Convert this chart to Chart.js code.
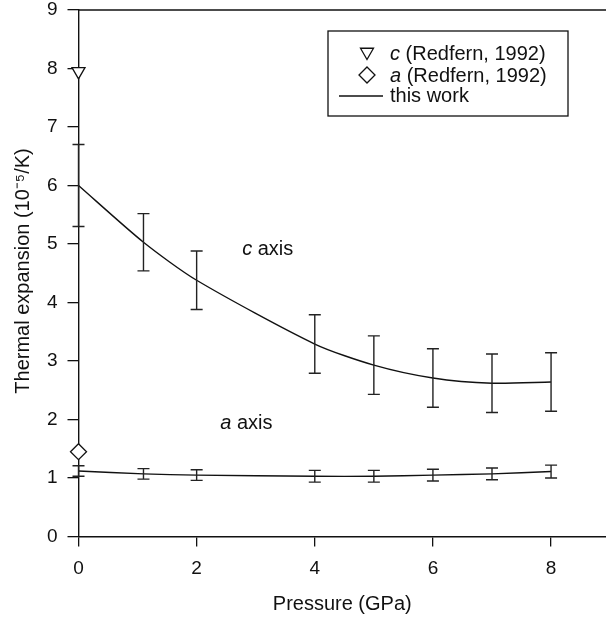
<!DOCTYPE html>
<html>
<head>
<meta charset="utf-8">
<script src="https://cdn.jsdelivr.net/npm/chart.js@4.4.1/dist/chart.umd.min.js"></script>
<style>
  html, body { margin: 0; padding: 0; background: #fff; }
  #wrap { width: 606px; height: 618px; position: relative; }
</style>
</head>
<body>
<div id="wrap"><canvas id="c" width="606" height="618"></canvas></div>
<script>
// ---- data ----
const pressure = [0, 1.1, 2, 4, 5, 6, 7, 8];
const cAxis = [6.0, 5.03, 4.38, 3.29, 2.93, 2.71, 2.62, 2.64];
const cErr = [0.70, 0.49, 0.50, 0.50, 0.50, 0.50, 0.50, 0.50];
const aAxis = [1.12, 1.07, 1.05, 1.03, 1.03, 1.05, 1.07, 1.11];
const aErr = [0.09, 0.09, 0.09, 0.10, 0.10, 0.10, 0.10, 0.11];
const redfernP = [0];
const redfernC = [7.95];
const redfernA = [1.45];
const xTicks = [0, 2, 4, 6, 8];
const yTicks = [0, 1, 2, 3, 4, 5, 6, 7, 8, 9];
const legendLabels = ['c', ' (Redfern, 1992)', 'a', ' (Redfern, 1992)', 'this work'];
const xTitle = 'Pressure (GPa)';
const yTitle = 'Thermal expansion (10\u207B\u2075/K)';

const FONT = '"Liberation Sans", Arial, Helvetica, sans-serif';
const toXY = (xs, ys) => xs.map((x, i) => ({ x: x, y: ys[i] }));
const noPad = (s) => { s.paddingTop = 0; s.paddingBottom = 0; s.paddingLeft = 0; s.paddingRight = 0; };

const errorBars = {
  id: 'errorBars',
  afterDatasetsDraw(chart) {
    const ctx = chart.ctx, xs = chart.scales.x, ys = chart.scales.y;
    ctx.save();
    ctx.strokeStyle = '#222';
    ctx.lineWidth = 1.4;
    const draw = (vals, errs) => {
      vals.forEach((v, i) => {
        const px = xs.getPixelForValue(pressure[i]);
        const t = ys.getPixelForValue(v + errs[i]);
        const b = ys.getPixelForValue(v - errs[i]);
        ctx.beginPath();
        ctx.moveTo(px, t); ctx.lineTo(px, b);
        ctx.moveTo(px - 6, t); ctx.lineTo(px + 6, t);
        ctx.moveTo(px - 6, b); ctx.lineTo(px + 6, b);
        ctx.stroke();
      });
    };
    draw(cAxis, cErr);
    draw(aAxis, aErr);
    ctx.restore();
  }
};

const decor = {
  id: 'decor',
  afterDraw(chart) {
    const ctx = chart.ctx, ca = chart.chartArea, xs = chart.scales.x, ys = chart.scales.y;
    ctx.save();
    // top frame line
    ctx.strokeStyle = '#111';
    ctx.lineWidth = 1.4;
    ctx.beginPath();
    ctx.moveTo(ca.left, ys.getPixelForValue(9));
    ctx.lineTo(ca.right, ys.getPixelForValue(9));
    ctx.stroke();

    // y title
    ctx.fillStyle = '#111';
    ctx.font = '20px ' + FONT;
    ctx.textAlign = 'center';
    ctx.textBaseline = 'middle';
    ctx.translate(23, 271);
    ctx.rotate(-Math.PI / 2);
    ctx.fillText(yTitle, 0, 0);
    ctx.setTransform(1, 0, 0, 1, 0, 0);

    // annotations
    const label = (ital, rest, xv, yv) => {
      const x = xs.getPixelForValue(xv), y = ys.getPixelForValue(yv);
      ctx.textAlign = 'left';
      ctx.textBaseline = 'middle';
      ctx.font = 'italic 20px ' + FONT;
      ctx.fillText(ital, x, y);
      const w = ctx.measureText(ital).width;
      ctx.font = '20px ' + FONT;
      ctx.fillText(rest, x + w, y);
    };
    label('c', ' axis', 2.77, 4.9);
    label('a', ' axis', 2.40, 1.94);

    // legend box
    const bx = 328, by = 31, bw = 240, bh = 85;
    ctx.fillStyle = '#fff';
    ctx.fillRect(bx, by, bw, bh);
    ctx.strokeStyle = '#111';
    ctx.lineWidth = 1.3;
    ctx.strokeRect(bx, by, bw, bh);
    ctx.fillStyle = '#111';
    // triangle down
    const tx = 367, ty = 52, r = 7.5;
    ctx.beginPath();
    ctx.moveTo(tx - r * 0.866, ty - r / 2);
    ctx.lineTo(tx + r * 0.866, ty - r / 2);
    ctx.lineTo(tx, ty + r);
    ctx.closePath();
    ctx.stroke();
    // diamond
    const dx = 367, dy = 75, d = 8;
    ctx.beginPath();
    ctx.moveTo(dx, dy - d); ctx.lineTo(dx + d, dy); ctx.lineTo(dx, dy + d); ctx.lineTo(dx - d, dy);
    ctx.closePath();
    ctx.stroke();
    // line
    ctx.beginPath();
    ctx.moveTo(339, 96); ctx.lineTo(383, 96);
    ctx.stroke();
    // texts
    const row = (ital, rest, y) => {
      ctx.textAlign = 'left'; ctx.textBaseline = 'middle';
      let x = 390;
      if (ital) {
        ctx.font = 'italic 20px ' + FONT;
        ctx.fillText(ital, x, y);
        x += ctx.measureText(ital).width;
      }
      ctx.font = '20px ' + FONT;
      ctx.fillText(rest, x, y);
    };
    row(legendLabels[0], legendLabels[1], 54);
    row(legendLabels[2], legendLabels[3], 76);
    row('', legendLabels[4], 96);
    ctx.restore();
  }
};

new Chart(document.getElementById('c'), {
  type: 'line',
  data: {
    datasets: [
      { label: 'c (Redfern, 1992)', data: toXY(redfernP, redfernC), showLine: false, pointStyle: 'triangle', rotation: 180, pointRadius: 7.5, pointBackgroundColor: '#fff', pointBorderColor: '#111', pointBorderWidth: 1.3 },
      { label: 'a (Redfern, 1992)', data: toXY(redfernP, redfernA), showLine: false, pointStyle: 'rectRot', pointRadius: 8, pointBackgroundColor: '#fff', pointBorderColor: '#111', pointBorderWidth: 1.3 },
      { label: 'this work', data: toXY(pressure, cAxis), borderColor: '#111', borderWidth: 1.4, pointRadius: 0, tension: 0.25, fill: false },
      { label: 'this work (a)', data: toXY(pressure, aAxis), borderColor: '#111', borderWidth: 1.4, pointRadius: 0, tension: 0.25, fill: false }
    ]
  },
  options: {
    responsive: false,
    animation: false,
    clip: false,
    layout: { autoPadding: false, padding: { top: 10, right: 0, left: 0, bottom: 0 } },
    plugins: { legend: { display: false }, tooltip: { enabled: false } },
    scales: {
      x: {
        type: 'linear', min: 0, max: 8.93,
        afterFit(s) { s.height = 81.5; noPad(s); },
        afterBuildTicks(s) { s.ticks = xTicks.map(v => ({ value: v })); },
        ticks: { color: '#111', font: { family: FONT, size: 19, lineHeight: 1.0 }, padding: 13, maxRotation: 0 },
        grid: { display: true, drawOnChartArea: false, drawTicks: true, tickLength: 10, color: '#111', lineWidth: 1.3 },
        border: { display: true, color: '#111', width: 1.4 },
        title: { display: true, text: xTitle, color: '#111', font: { family: FONT, size: 20 }, padding: { top: 0, bottom: 2 } }
      },
      y: {
        type: 'linear', min: 0, max: 9,
        afterFit(s) { s.width = 78.5; noPad(s); },
        afterBuildTicks(s) { s.ticks = yTicks.map(v => ({ value: v })); },
        ticks: { color: '#111', font: { family: FONT, size: 19 }, padding: 10 },
        grid: { display: true, drawOnChartArea: false, drawTicks: true, tickLength: 11, color: '#111', lineWidth: 1.3 },
        border: { display: true, color: '#111', width: 1.4 }
      }
    }
  },
  plugins: [errorBars, decor]
});
</script>
</body>
</html>
